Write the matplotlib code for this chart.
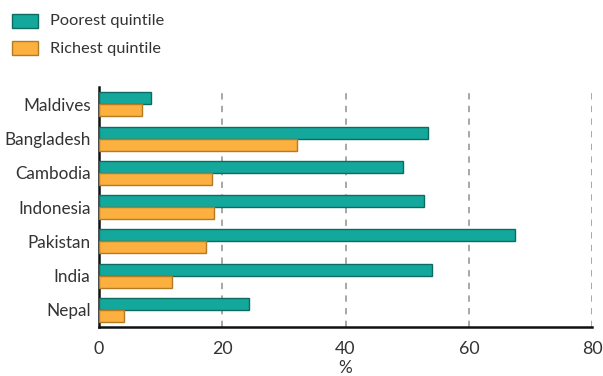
import matplotlib
matplotlib.use("Agg")
import matplotlib.pyplot as plt
from matplotlib.patches import Rectangle
import numpy as np

countries = ["Maldives", "Bangladesh", "Cambodia", "Indonesia", "Pakistan", "India", "Nepal"]
poorest = [8.4, 53.3, 49.4, 52.8, 67.5, 54.0, 24.4]
richest = [7.0, 32.2, 18.4, 18.7, 17.4, 11.9, 4.0]
xticks = [0, 20, 40, 60, 80]
legend_labels = ["Poorest quintile", "Richest quintile"]

teal = "#13A89B"
teal_edge = "#0E6B62"
orange = "#FBB03F"
orange_edge = "#B57A24"
text_col = "#333333"

plt.rcParams['font.family'] = ['Lato', 'DejaVu Sans']

W, H = 603, 376
fig = plt.figure(figsize=(W / 100, H / 100), dpi=100)
ax = fig.add_axes([0.164, 0.130, 0.818, 0.638])

y = np.arange(len(countries))
h = 0.35
ax.barh(y - h/2, poorest, height=h, color=teal, edgecolor=teal_edge, linewidth=1.0, zorder=3)
ax.barh(y + h/2, richest, height=h, color=orange, edgecolor=orange_edge, linewidth=1.0, zorder=3)

ax.set_ylim(len(countries) - 0.5, -0.5)
ax.set_xlim(0, 80)
ax.set_yticks(y)
ax.set_yticklabels(countries, fontsize=12.3, color=text_col)
ax.set_xticks(xticks)
ax.set_xticklabels([str(t) for t in xticks], fontsize=12.8, color=text_col)
ax.tick_params(axis='y', length=0, pad=6)
ax.tick_params(axis='x', length=0, pad=10)

for t in xticks[1:]:
    ax.axvline(t, color="#a0a0a0", linestyle=(0, (3.5, 3.5)), linewidth=1.3, zorder=1)

for s in ["top", "right"]:
    ax.spines[s].set_visible(False)
for s in ["left", "bottom"]:
    ax.spines[s].set_color("#111111")
    ax.spines[s].set_linewidth(1.8)

ax.set_xlabel("%", fontsize=12.3, color=text_col, labelpad=2)

# legend drawn manually in figure pixel coordinates
for i, (lab, fc, ec) in enumerate(zip(legend_labels, [teal, orange], [teal_edge, orange_edge])):
    top = 14 + i * 27
    fig.patches.append(Rectangle((12 / W, 1 - (top + 14) / H), 26 / W, 14 / H,
                                 transform=fig.transFigure, facecolor=fc, edgecolor=ec,
                                 linewidth=1.0))
    fig.text(50 / W, 1 - (top + 7.5) / H, lab, fontsize=11.8, color=text_col,
             ha="left", va="center")

fig.savefig("out.png", dpi=100)
